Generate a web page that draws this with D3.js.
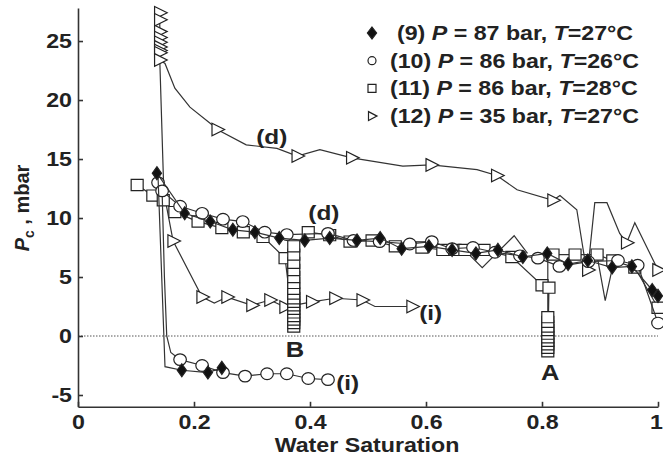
<!DOCTYPE html>
<html><head><meta charset="utf-8">
<script src="https://cdn.jsdelivr.net/npm/d3@7"></script>
<style>html,body{margin:0;padding:0;background:#fff;} svg{display:block;font-family:"Liberation Sans",Arial,Helvetica,sans-serif;}</style>
</head><body><svg id="c" width="663" height="459"></svg>
<script>
// ---------- data ----------
const xTicks = [0, 0.2, 0.4, 0.6, 0.8, 1];
const xTickLabels = ["0", "0.2", "0.4", "0.6", "0.8", "1"];
const yTicks = [-5, 0, 5, 10, 15, 20, 25];
const yTickLabels = ["-5", "0", "5", "10", "15", "20", "25"];
const legendIds = ["(9)", "(10)", "(11)", "(12)"];
const legendP = [87, 86, 86, 35];
const legendT = [27, 26, 28, 27];
const xTitle = "Water Saturation";

// [Sw, Pc(mbar), marker?]  (third value 0 = line vertex only)
const s9Drain = [[0.136,13.8],[0.184,10.4],[0.228,9.7],[0.267,9.0],[0.305,8.8],[0.347,8.3],[0.391,8.1],[0.434,8.3],[0.481,8.1],[0.521,8.3],[0.558,7.4],[0.605,7.6],[0.645,7.3],[0.686,7.0],[0.724,7.3],[0.767,6.7],[0.809,7.0],[0.845,6.1],[0.879,6.4],[0.921,5.8],[0.955,5.9],[0.99,3.9],[1.0,3.4]];
const s9Imb = [[0.138,13.5,0],[0.150,-2.6,0],[0.179,-2.9],[0.224,-3.1],[0.248,-2.7]];

const s10Drain = [[0.138,13.0],[0.145,12.3],[0.176,11.0],[0.214,10.4],[0.25,9.9],[0.284,9.7],[0.322,8.8],[0.36,8.6],[0.431,8.7],[0.475,8.1],[0.52,8.0],[0.572,7.8],[0.61,8.0],[0.645,7.4],[0.681,7.5],[0.719,7.1],[0.762,6.8],[0.793,6.6],[0.830,5.9],[0.88,6.3],[0.931,6.4],[0.965,6.0],[1.0,1.1]];
const s10Imb = [[0.145,12.3,0],[0.149,5.0,0],[0.153,0.0,0],[0.160,-1.4,0],[0.176,-2.0],[0.214,-2.5],[0.25,-3.1],[0.288,-3.4],[0.326,-3.2],[0.36,-3.2],[0.397,-3.6],[0.431,-3.7]];

const s11 = [[0.102,12.8],[0.129,11.9],[0.147,11.5],[0.167,10.5],[0.207,9.7],[0.248,9.15],[0.285,8.8],[0.319,8.4],[0.357,6.6],[0.366,3.0,0],
  [0.372,0.8],[0.372,1.1],[0.372,1.4],[0.372,1.7],[0.372,2.0],[0.372,2.3],[0.372,2.6],[0.372,2.9],[0.372,3.2],[0.372,3.6],[0.372,4.0],[0.372,4.5],[0.372,5.0],[0.372,5.6],[0.372,6.2],[0.372,6.9],[0.372,7.6],
  [0.397,8.8],[0.434,8.55],[0.469,8.0],[0.507,8.1],[0.547,7.6],[0.593,7.5],[0.629,7.3],[0.65,7.3],[0.667,7.3],[0.70,7.3],[0.748,6.7],[0.80,4.3],[0.812,4.1],
  [0.81,-1.3],[0.81,-1.0],[0.81,-0.7],[0.81,-0.4],[0.81,-0.1],[0.81,0.2],[0.81,0.5],[0.81,0.8],[0.81,1.2],[0.81,1.6],[0.81,7.2,0],
  [0.819,6.9],[0.857,6.9],[0.895,6.9],[0.922,6.4],[0.96,5.8],[1.0,2.4]];

const s12Drain = [[0.141,27.4],[0.141,26.8],[0.141,25.8],[0.141,25.3],[0.141,24.9],[0.141,24.5],[0.141,24.2],[0.141,24.0],[0.141,23.4],
  [0.150,23.1,0],[0.167,21.0,0],[0.193,19.4,0],[0.231,17.9,0],[0.240,17.5],[0.29,16.2,0],[0.343,15.9,0],[0.378,15.25],[0.417,15.8,0],[0.472,15.1],[0.56,14.4,0],[0.609,14.5],[0.688,14.1,0],[0.722,13.6],[0.757,12.4,0],[0.819,11.5],[0.831,11.9,0],[0.86,10.7,0],[0.874,6.4,0],[0.879,5.6],[0.891,11.3,0],[0.912,11.3,0],[0.934,8.7,0],[0.946,7.9],[0.96,9.6,0],[1.0,5.6]];
const s12Imb = [[0.141,23.4,0],[0.148,12.2,0],[0.164,8.05],[0.214,3.3],[0.235,2.8,0],[0.257,3.3],[0.300,2.6],[0.331,3.05],[0.357,2.45],[0.403,2.9],[0.443,3.2],[0.490,3.05],[0.512,2.5,0],[0.576,2.5]];
const s12MidA = [[0.66,7.6,0],[0.697,5.8,0],[0.752,8.5,0],[0.775,7.0,0]];
const s12MidB = [[0.895,6.8,0],[0.909,3.0,0],[0.925,6.6,0]];

const curveLabels = [["(d)",0.334,16.3],["(d)",0.424,9.8],["(i)",0.608,1.35],["(i)",0.465,-4.55],["A",0.814,-3.7],["B",0.374,-1.8]];

// ---------- drawing ----------
const svg = d3.select("#c");
const SX = 1.16;
const INK = "#222";
const x = d3.scaleLinear().domain([0, 1]).range([78, 658]);
const y = d3.scaleLinear().domain([-6, 27.8]).range([406.8, 8]);

// zero reference line
svg.append("line").attr("x1", x(0)).attr("x2", x(1)).attr("y1", y(0)).attr("y2", y(0))
  .attr("stroke", "#555").attr("stroke-width", 1).attr("stroke-dasharray", "1.5,1.5");

const mk = {
  diamond: "M0,-6.5L4.6,0L0,6.5L-4.6,0Z",
  square: "M-6,-5.6H6V5.6H-6Z",
  tri: "M-5.2,-6.3L7.4,0L-5.2,6.3Z"
};
const line = d3.line().x(d => x(d[0])).y(d => y(d[1]));

function drawSeries(arrs, type) {
  const g = svg.append("g");
  arrs.forEach(a => {
    g.append("path").attr("d", line(a)).attr("fill", "none").attr("stroke", "#333").attr("stroke-width", 1.2);
  });
  arrs.forEach(a => {
    const pts = a.filter(d => d[2] !== 0);
    const sel = g.selectAll(null).data(pts).enter();
    if (type === "circle") {
      sel.append("ellipse").attr("cx", d => x(d[0])).attr("cy", d => y(d[1])).attr("rx", 6.3).attr("ry", 5.8)
        .attr("fill", "#fff").attr("stroke", INK).attr("stroke-width", 1.2);
    } else {
      sel.append("path").attr("transform", d => `translate(${x(d[0])},${y(d[1])})`).attr("d", mk[type])
        .attr("fill", type === "diamond" ? "#111" : "#fff").attr("stroke", INK).attr("stroke-width", 1.2);
    }
  });
}
drawSeries([s12Drain, s12Imb, s12MidA, s12MidB], "tri");
drawSeries([s11], "square");
drawSeries([s10Drain, s10Imb], "circle");
drawSeries([s9Drain, s9Imb], "diamond");

// axes
const gx = svg.append("g").attr("transform", `translate(0,${y(-6)})`)
  .call(d3.axisBottom(x).tickValues(xTicks).tickFormat((d, i) => xTickLabels[i]).tickSizeInner(-5).tickSizeOuter(0).tickPadding(8));
const gy = svg.append("g").attr("transform", `translate(${x(0)},0)`)
  .call(d3.axisLeft(y).tickValues(yTicks).tickFormat((d, i) => yTickLabels[i]).tickSizeInner(-5).tickSizeOuter(0).tickPadding(6));
[gx, gy].forEach(g => {
  g.selectAll("path,line").attr("stroke", "#333").attr("stroke-width", 1.6);
  g.selectAll("text").attr("font-size", 20).attr("font-weight", "bold").attr("fill", INK)
    .attr("font-family", "'Liberation Sans', Arial, sans-serif").attr("transform", `scale(${SX},1)`);
});
gy.selectAll("text").attr("x", -6 / SX);
// keep the last x label inside the picture edge
gx.selectAll(".tick text").filter(d => d === 1).attr("text-anchor", "end").attr("x", 4.5 / SX);

// axis titles
svg.append("text").attr("transform", `translate(367,452) scale(${SX},1)`).attr("text-anchor", "middle")
  .attr("font-size", 20).attr("font-weight", "bold").attr("fill", INK).text(xTitle);
const yt = svg.append("text").attr("transform", "translate(29,208) rotate(-90)").attr("text-anchor", "middle")
  .attr("font-size", 20).attr("font-weight", "bold").attr("fill", INK);
yt.append("tspan").attr("font-style", "italic").text("P");
yt.append("tspan").attr("font-size", 14).attr("dy", 5).text("c");
yt.append("tspan").attr("dy", -5).text(" , mbar");

// curve labels
curveLabels.forEach(([t, sx, sy]) => {
  svg.append("text").attr("transform", `translate(${x(sx)},${y(sy)}) scale(${SX},1)`).attr("text-anchor", "middle")
    .attr("font-size", t.length === 1 ? 22 : 21).attr("font-weight", "bold").attr("fill", INK).text(t);
});

// legend
const legTypes = ["diamond", "circle", "square", "tri"];
const legMk = {
  diamond: "M0,-6L4.6,0L0,6L-4.6,0Z",
  square: "M-4,-4H4V4H-4Z",
  tri: "M-3.5,-4.5L5,0L-3.5,4.5Z"
};
legendIds.forEach((id, i) => {
  const cy = 33 + i * 27.7;
  if (legTypes[i] === "circle") {
    svg.append("circle").attr("cx", 372).attr("cy", cy).attr("r", 4).attr("fill", "#fff").attr("stroke", INK).attr("stroke-width", 1.2);
  } else {
    svg.append("path").attr("transform", `translate(372,${cy})`).attr("d", legMk[legTypes[i]])
      .attr("fill", legTypes[i] === "diamond" ? "#111" : "#fff").attr("stroke", INK).attr("stroke-width", 1.2);
  }
  const tx = i === 0 ? 397 : 390;
  const t = svg.append("text").attr("transform", `translate(${tx},${cy + 7}) scale(${SX},1)`)
    .attr("font-size", 20).attr("font-weight", "bold").attr("fill", INK);
  t.append("tspan").text(id + " ");
  t.append("tspan").attr("font-style", "italic").text("P");
  t.append("tspan").text(` = ${legendP[i]} bar, `);
  t.append("tspan").attr("font-style", "italic").text("T");
  t.append("tspan").text(`=${legendT[i]}°C`);
});
</script>
</body></html>
